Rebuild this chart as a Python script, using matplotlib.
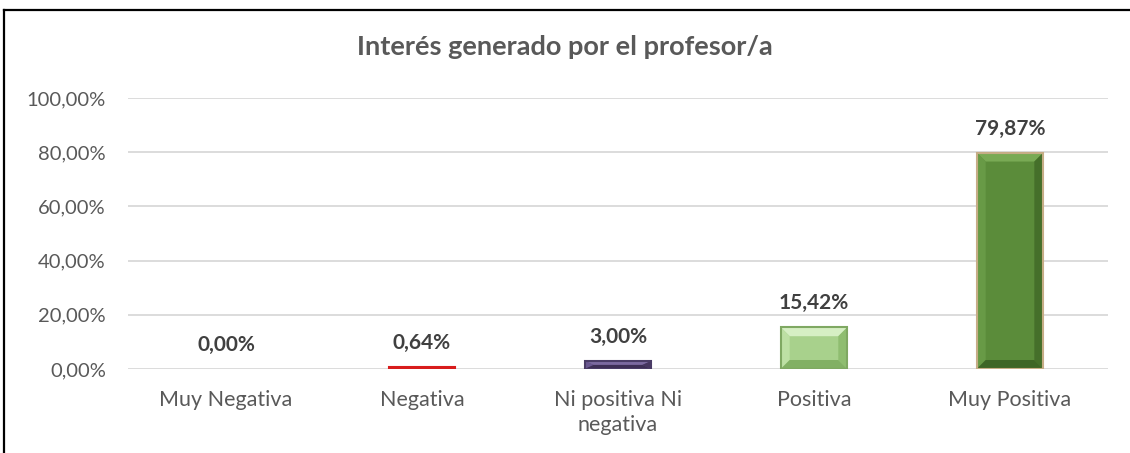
import matplotlib
matplotlib.use('Agg')
import matplotlib.pyplot as plt
from matplotlib.patches import Polygon
from matplotlib.lines import Line2D
from matplotlib.ticker import FuncFormatter

plt.rcParams['font.family'] = ['Lato', 'DejaVu Sans']

# Data
categories = ['Muy Negativa', 'Negativa', 'Ni positiva Ni\nnegativa', 'Positiva', 'Muy Positiva']
values = [0.00, 0.64, 3.00, 15.42, 79.87]
labels = ['0,00%', '0,64%', '3,00%', '15,42%', '79,87%']
title = 'Interés generado por el profesor/a'

# colours: base, top facet, left facet, right facet, bottom facet, edge
palettes = [
    ('#c00000', '#e04040', '#d02020', '#a00000', '#900000', '#c00000'),
    ('#e01818', '#f06060', '#e83030', '#b01010', '#a00808', '#d81c1c'),
    ('#5c4a7e', '#7c6aa0', '#6a5890', '#463660', '#3e2f56', '#4a3c66'),
    ('#a8d18c', '#d6efc4', '#bde0a4', '#8fbd70', '#82b064', '#7fa862'),
    ('#5b8c3a', '#79aa55', '#689a46', '#456f2a', '#3e6626', '#c6ad86'),
]

fig = plt.figure(figsize=(11.3, 4.53), dpi=100)
ax = fig.add_axes([128/1130, 84/453, 980/1130, 271/453])

x = range(len(categories))
bw = 0.34
bars = ax.bar(x, values, width=bw, color=[p[0] for p in palettes],
              linewidth=0, zorder=3)

# simple bevel look
px_x = 980 / 5.0      # pixels per category unit
px_y = 271 / 100.0    # pixels per percent
for b, pal in zip(bars, palettes):
    h = b.get_height()
    if h <= 0:
        continue
    x0, x1 = b.get_x(), b.get_x() + b.get_width()
    dx = 9 / px_x
    dy = min(9 / px_y, h / 2.0)
    ix0, ix1 = x0 + dx, x1 - dx
    iy0, iy1 = dy, h - dy
    facets = [
        ([(x0, h), (x1, h), (ix1, iy1), (ix0, iy1)], pal[1]),
        ([(x0, 0), (x0, h), (ix0, iy1), (ix0, iy0)], pal[2]),
        ([(x1, 0), (x1, h), (ix1, iy1), (ix1, iy0)], pal[3]),
        ([(x0, 0), (x1, 0), (ix1, iy0), (ix0, iy0)], pal[4]),
    ]
    for pts, c in facets:
        ax.add_patch(Polygon(pts, closed=True, facecolor=c, edgecolor='none', zorder=4))

# outlines on top
ax.bar(x, values, width=bw, fill=False, edgecolor=[p[5] for p in palettes],
       linewidth=[0 if v == 0 else 1.5 for v in values], zorder=5)

for xi, v, lab in zip(x, values, labels):
    ax.annotate(lab, (xi, v), xytext=(0, 10), textcoords='offset points',
                ha='center', va='bottom', fontsize=15, fontweight='bold', color='#404040')

ax.set_ylim(0, 100)
ax.set_xlim(-0.5, 4.5)
ax.set_yticks([0, 20, 40, 60, 80, 100])
ax.yaxis.set_major_formatter(FuncFormatter(lambda v, p: ('%.2f%%' % v).replace('.', ',')))
ax.set_xticks(list(x))
ax.set_xticklabels(categories, fontsize=15.5, color='#595959', linespacing=1.35)
ax.tick_params(axis='y', labelsize=14.5, labelcolor='#595959', length=0, pad=16)
ax.tick_params(axis='x', length=0, pad=15)
ax.grid(axis='y', color='#d9d9d9', linewidth=1.3, zorder=0)
for s in ax.spines.values():
    s.set_visible(False)

fig.text(0.5, 1 - 47/453, title, ha='center', va='center', fontsize=19.5,
         fontweight='bold', color='#595959')

# frame (left and top edges visible)
fig.add_artist(Line2D([3.5/1130, 3.5/1130], [0, 1 - 10/453], transform=fig.transFigure,
                      color='black', linewidth=1.6))
fig.add_artist(Line2D([3.5/1130, 1], [1 - 10/453, 1 - 10/453], transform=fig.transFigure,
                      color='black', linewidth=1.6))

fig.savefig('out.png', dpi=100)
